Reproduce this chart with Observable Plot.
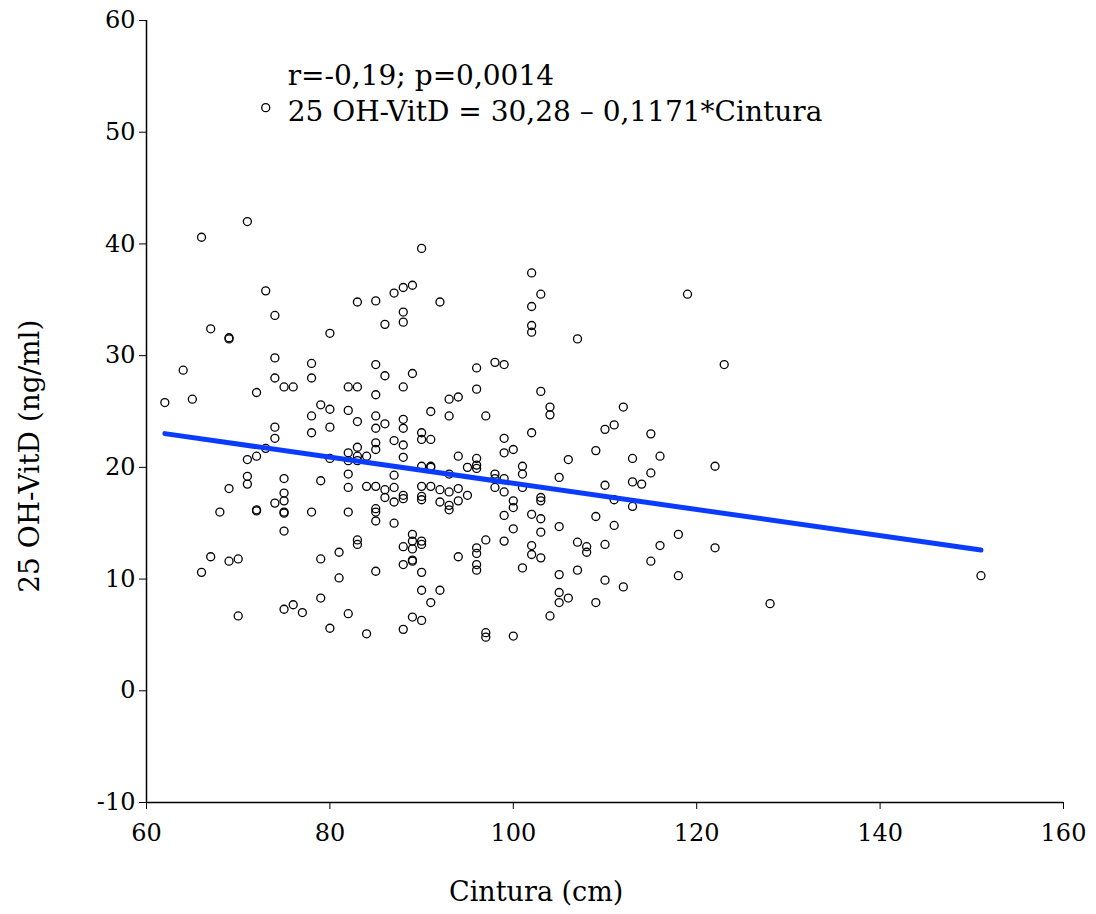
<!DOCTYPE html>
<html>
<head>
<meta charset="utf-8">
<script src="https://cdn.jsdelivr.net/npm/d3@7"></script>
<script src="https://cdn.jsdelivr.net/npm/@observablehq/plot@0.6"></script>
<style>
  html, body { margin: 0; padding: 0; background: #fff; }
  #chart svg { display: block; }
</style>
</head>
<body>
<div id="chart"></div>
<script>
// Waist circumference (cm)
const cintura = [
  62,64,65,66,66,67,67,68,69,69,69,69,70,70,71,71,71,71,72,72,72,72,
  73,73,73,74,74,74,74,74,74,75,75,75,75,75,75,75,75,76,76,77,
  78,78,78,78,78,79,79,79,79,80,80,80,80,80,81,81,
  82,82,82,82,82,82,82,82,83,83,83,83,83,83,83,83,84,84,84,
  85,85,85,85,85,85,85,85,85,85,85,85,86,86,86,86,86,
  87,87,87,87,87,87,88,88,88,88,88,88,88,88,88,88,88,88,88,
  89,89,89,89,89,89,89,89,90,90,90,90,90,90,90,90,90,90,90,90,
  91,91,91,91,91,91,92,92,92,92,93,93,93,93,93,93,94,94,94,94,94,95,95,
  96,96,96,96,96,96,96,96,96,97,97,97,97,98,98,98,98,
  99,99,99,99,99,99,99,100,100,100,100,100,101,101,101,101,
  102,102,102,102,102,102,102,102,103,103,103,103,103,103,103,104,104,104,
  105,105,105,105,105,106,106,107,107,107,108,108,109,109,109,
  110,110,110,110,111,111,111,112,112,113,113,113,114,115,115,115,116,116,
  118,118,119,122,122,123,128,151
];
// 25 OH-VitD (ng/ml)
const vitD = [
  25.8,28.7,26.1,40.6,10.6,32.4,12.0,16.0,31.6,31.5,18.1,11.6,11.8,6.7,42.0,20.7,19.2,18.5,26.7,21.0,16.2,16.1,
  52.2,35.8,21.7,33.6,29.8,28.0,23.6,22.6,16.8,27.2,19.0,17.7,17.0,16.0,15.9,14.3,7.3,27.2,7.7,7.0,
  29.3,28.0,24.6,23.1,16.0,25.6,18.8,11.8,8.3,32.0,25.2,23.6,20.8,5.6,12.4,10.1,
  27.2,25.1,21.3,20.6,19.4,18.2,16.0,6.9,34.8,27.2,24.1,21.8,21.0,20.6,13.5,13.1,21.0,18.3,5.1,
  34.9,29.2,26.5,24.6,23.5,22.2,21.6,18.3,16.3,16.0,15.2,10.7,32.8,28.2,23.9,18.0,17.3,
  35.6,22.4,19.3,18.2,16.9,15.0,36.1,33.9,33.0,27.2,24.3,23.5,22.0,20.9,17.5,17.2,12.9,11.3,5.5,
  36.3,28.4,14.0,13.4,12.7,11.7,11.6,6.6,39.6,23.1,22.5,20.1,18.3,17.4,17.1,13.4,13.1,10.6,9.0,6.3,
  25.0,22.5,20.1,20.0,18.3,7.9,34.8,18.0,16.9,9.0,26.1,24.6,19.4,17.8,16.6,16.2,26.3,21.0,18.1,17.0,12.0,20.0,17.5,
  28.9,27.0,20.8,20.2,19.9,12.8,12.3,11.3,10.8,24.6,13.5,5.2,4.8,29.4,19.4,19.0,18.2,
  29.2,22.6,21.3,19.0,17.8,15.7,13.4,21.6,17.0,16.4,14.5,4.9,20.1,19.4,18.2,11.0,
  37.4,34.4,32.7,32.1,23.1,15.8,13.0,12.2,35.5,26.8,17.3,17.0,15.4,14.2,11.9,25.4,24.7,6.7,
  19.1,14.7,10.4,8.8,7.9,20.7,8.3,31.5,13.3,10.8,12.9,12.4,21.5,15.6,7.9,
  23.4,18.4,13.1,9.9,23.8,17.1,14.8,25.4,9.3,20.8,18.7,16.5,18.5,23.0,19.5,11.6,21.0,13.0,
  14.0,10.3,35.5,20.1,12.8,29.2,7.8,10.3
];
const xTicks = [60, 80, 100, 120, 140, 160];
const yTicks = [-10, 0, 10, 20, 30, 40, 50, 60];
const fitIntercept = 30.28;
const fitSlope = -0.1171;
const fitRange = [62, 151];
const annotations = ["r=-0,19; p=0,0014", "25 OH-VitD = 30,28 \u2013 0,1171*Cintura"];
const annotationX = [75.4, 75.4];
const annotationY = [54.2, 51.0];
const xLabel = "Cintura (cm)";
const xLabelAt = 102.5;
const yLabel = "25 OH-VitD (ng/ml)";
const yLabelAt = 21.0;

const points = cintura.map((c, i) => ({x: c, y: vitD[i]}));
const fit = fitRange.map(x => ({x, y: fitIntercept + fitSlope * x}));
const notes = annotations.map((t, i) => ({t, x: annotationX[i], y: annotationY[i]}));

const font = "'DejaVu Serif', 'Liberation Serif', serif";

const chart = Plot.plot({
  width: 1096,
  height: 914,
  marginLeft: 146,
  marginRight: 33,
  marginTop: 20,
  marginBottom: 112,
  style: {fontFamily: font, fontSize: "24px", color: "#000", background: "#fff"},
  x: {domain: [60, 160]},
  y: {domain: [-10, 60]},
  marks: [
    Plot.ruleX([60], {stroke: "#000", strokeWidth: 1.5}),
    Plot.ruleY([-10], {stroke: "#000", strokeWidth: 1.5}),
    Plot.axisX({ticks: xTicks, tickSize: 7, tickPadding: 14, tickFormat: d => String(d), label: null, fontSize: 24}),
    Plot.axisY({ticks: yTicks, tickSize: 7, tickPadding: 4, tickFormat: d => String(d), label: null, fontSize: 24}),
    Plot.dot(points, {x: "x", y: "y", r: 4, stroke: "#000", strokeWidth: 1.3, fill: "none"}),
    Plot.line(fit, {x: "x", y: "y", stroke: "#0a3cff", strokeWidth: 5, strokeLinecap: "round"}),
    Plot.text(notes, {x: "x", y: "y", text: "t", textAnchor: "start", lineAnchor: "bottom", fontSize: 28, fill: "#000"}),
    Plot.text([xLabel], {x: () => xLabelAt, frameAnchor: "bottom", dy: 98, fontSize: 27, fill: "#000"}),
    Plot.text([yLabel], {y: () => yLabelAt, frameAnchor: "left", dx: -116, rotate: -90, textAnchor: "middle", fontSize: 28, fill: "#000"})
  ]
});
document.getElementById("chart").appendChild(chart);
</script>
</body>
</html>
